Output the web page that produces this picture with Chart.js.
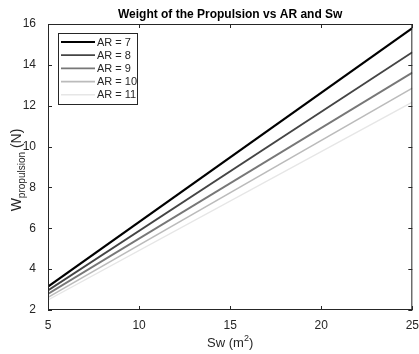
<!DOCTYPE html>
<html>
<head>
<meta charset="utf-8">
<script src="https://cdn.jsdelivr.net/npm/chart.js@4"></script>
<style>
  html, body { margin: 0; padding: 0; background: #fff; }
  #wrap { width: 419px; height: 354px; }
</style>
</head>
<body>
<div id="wrap"><canvas id="chart" width="419" height="354"></canvas></div>
<script>
// Sw (m^2) at the ends of each straight line
const sw = [5, 25];

// weight of the propulsion (N) per aspect ratio
const ar7 = [3.14, 15.80];
const ar8 = [2.96, 14.62];
const ar9 = [2.79, 13.62];
const ar10 = [2.62, 12.86];
const ar11 = [2.49, 12.18];

const labels = ['AR = 7', 'AR = 8', 'AR = 9', 'AR = 10', 'AR = 11'];
const colors = ['#000000', '#444444', '#777777', '#bbbbbb', '#e6e6e6'];
const widths = [2.2, 1.8, 1.8, 1.6, 1.4];

const xTicks = [5, 10, 15, 20, 25];
const yTicks = [2, 4, 6, 8, 10, 12, 14, 16];

const axisColor = '#262626';
const font = '"Liberation Sans", Arial, sans-serif';

function toPoints(ys) {
    return ys.map((y, i) => ({ x: sw[i], y: y }));
}

const series = [ar7, ar8, ar9, ar10, ar11];

// box, inward ticks, titles and legend drawn the MATLAB way
const matlabLook = {
    id: 'matlabLook',
    afterDraw(chart) {
        const c = chart.ctx;
        const a = chart.chartArea;
        const xs = chart.scales.x, ys = chart.scales.y;
        c.save();
        c.strokeStyle = axisColor;
        c.lineWidth = 1;
        c.strokeRect(a.left + 0.5, a.top + 0.5, a.right - a.left - 1, a.bottom - a.top - 1);
        c.beginPath();
        xTicks.forEach(v => {
            const px = Math.round(xs.getPixelForValue(v)) + 0.5;
            c.moveTo(px, a.bottom); c.lineTo(px, a.bottom - 4);
            c.moveTo(px, a.top); c.lineTo(px, a.top + 4);
        });
        yTicks.forEach(v => {
            const py = Math.round(ys.getPixelForValue(v)) + 0.5;
            c.moveTo(a.left, py); c.lineTo(a.left + 4, py);
            c.moveTo(a.right, py); c.lineTo(a.right - 4, py);
        });
        c.stroke();

        const cx = (a.left + a.right) / 2;
        // title
        c.fillStyle = '#000';
        c.font = 'bold 12px ' + font;
        c.textAlign = 'center';
        c.textBaseline = 'alphabetic';
        c.fillText('Weight of the Propulsion vs AR and Sw', cx, 18);

        // x axis title with superscript
        c.fillStyle = axisColor;
        const p1 = 'Sw (m', p3 = ')';
        c.font = '13px ' + font; const w1 = c.measureText(p1).width, w3 = c.measureText(p3).width;
        c.font = '9px ' + font; const w2 = c.measureText('2').width;
        let x0 = cx - (w1 + w2 + w3) / 2;
        c.textAlign = 'left';
        c.font = '13px ' + font; c.fillText(p1, x0, 347);
        c.font = '9px ' + font; c.fillText('2', x0 + w1, 341);
        c.font = '13px ' + font; c.fillText(p3, x0 + w1 + w2, 347);

        // y axis title with subscript
        c.translate(21, 170);
        c.rotate(-Math.PI / 2);
        const q1 = 'W', q2 = 'propulsion', q3 = ' (N)';
        c.font = '14px ' + font; const v1 = c.measureText(q1).width, v3 = c.measureText(q3).width;
        c.font = '10px ' + font; const v2 = c.measureText(q2).width;
        let y0 = -(v1 + v2 + v3) / 2;
        c.font = '14px ' + font; c.fillText(q1, y0, 0);
        c.font = '10px ' + font; c.fillText(q2, y0 + v1, 4);
        c.font = '14px ' + font; c.fillText(q3, y0 + v1 + v2, 0);
        c.setTransform(1, 0, 0, 1, 0, 0);

        // legend inside the plot
        const lx = a.left + 10, ly = a.top + 9, lw = 79, lh = 71;
        c.fillStyle = '#fff';
        c.fillRect(lx, ly, lw, lh);
        c.strokeStyle = axisColor;
        c.lineWidth = 1;
        c.strokeRect(lx + 0.5, ly + 0.5, lw, lh);
        c.font = '11px ' + font;
        c.textBaseline = 'middle';
        chart.data.datasets.forEach((ds, i) => {
            const yy = ly + 9 + i * 13.2;
            c.strokeStyle = ds.borderColor;
            c.lineWidth = ds.borderWidth;
            c.beginPath();
            c.moveTo(lx + 3, yy); c.lineTo(lx + 37, yy);
            c.stroke();
            c.fillStyle = axisColor;
            c.fillText(ds.label, lx + 39, yy + 0.5);
        });
        c.restore();
    }
};

new Chart(document.getElementById('chart'), {
    type: 'line',
    data: {
        datasets: series.map((s, i) => ({
            label: labels[i],
            data: toPoints(s),
            borderColor: colors[i],
            borderWidth: widths[i],
            pointRadius: 0,
            fill: false,
            tension: 0
        }))
    },
    options: {
        responsive: false,
        animation: false,
        layout: { padding: { top: 24, right: 0, left: 0, bottom: 0 } },
        plugins: { legend: { display: false }, tooltip: { enabled: false } },
        scales: {
            x: {
                type: 'linear', min: 5, max: 25,
                afterFit(s) { s.height = 44; },
                afterBuildTicks(s) { s.ticks = xTicks.map(v => ({ value: v })); },
                grid: { display: false },
                border: { display: false },
                ticks: { color: axisColor, font: { family: font, size: 12 }, padding: 0, maxRotation: 0 }
            },
            y: {
                type: 'linear', min: 2, max: 16,
                afterFit(s) { s.width = 48; },
                afterBuildTicks(s) { s.ticks = yTicks.map(v => ({ value: v })); },
                grid: { display: false },
                border: { display: false },
                ticks: { color: axisColor, font: { family: font, size: 12 }, padding: 4 }
            }
        }
    },
    plugins: [matlabLook]
});
</script>
</body>
</html>
